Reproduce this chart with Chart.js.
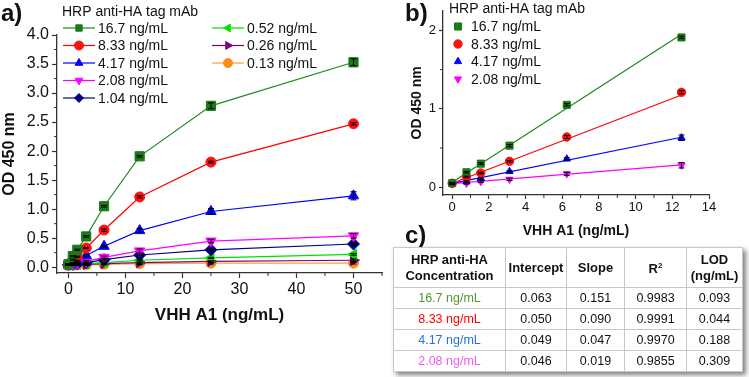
<!DOCTYPE html>
<html>
<head>
<meta charset="utf-8">
<script src="https://cdn.jsdelivr.net/npm/chart.js@4.4.0/dist/chart.umd.min.js"></script>
<style>
    body { margin: 0; background: #fff; width: 749px; height: 377px; overflow: hidden; position: relative;
           font-family: "Liberation Sans", Arial, sans-serif; color: #111; }
    #wrapA { position: absolute; left: 0; top: 0; }
    #wrapB { position: absolute; left: 380px; top: 0; }
    .panel { position: absolute; font-weight: bold; font-size: 24px; line-height: 24px; }
    #tbl { position: absolute; left: 393px; top: 247px; border-collapse: collapse; font-size: 12.5px;
           background: #fff; box-shadow: 3px 3px 5px rgba(0,0,0,0.5); table-layout: fixed; }
    #tbl th, #tbl td { border: 1px solid #c8c8c8; text-align: center; padding: 0; }
    #tbl th { font-weight: bold; font-size: 13px; height: 39px; line-height: 16px; }
    #tbl td { height: 20px; }
</style>
</head>
<body>
<div id="wrapA"><canvas id="chartA" width="390" height="326"></canvas></div>
<div id="wrapB"><canvas id="chartB" width="369" height="240"></canvas></div>
<div class="panel" style="left:1px;top:1px">a)</div>
<div class="panel" style="left:405px;top:1px">b)</div>
<div class="panel" style="left:405px;top:223px">c)</div>
<table id="tbl">
    <colgroup><col style="width:112px"><col style="width:61px"><col style="width:58px"><col style="width:62px"><col style="width:56px"></colgroup>
    <thead><tr>
        <th>HRP anti-HA<br>Concentration</th><th>Intercept</th><th>Slope</th><th>R<sup style="font-size:8px">2</sup></th><th>LOD<br>(ng/mL)</th>
    </tr></thead>
    <tbody id="tbody"></tbody>
</table>
<script>
    // VHH A1 concentrations (ng/mL)
    const concX = [0, 0.78, 1.56, 3.125, 6.25, 12.5, 25, 50];

    // OD 450 nm for each HRP anti-HA tag mAb concentration
    const od167 = [0.05, 0.19, 0.30, 0.53, 1.05, 1.91, 2.78, 3.53];
    const od833 = [0.05, 0.13, 0.18, 0.33, 0.64, 1.21, 1.81, 2.47];
    const od417 = [0.05, 0.07, 0.11, 0.20, 0.36, 0.63, 0.96, 1.23];
    const od208 = [0.04, 0.05, 0.07, 0.10, 0.17, 0.28, 0.45, 0.54];
    const od104 = [0.04, 0.05, 0.06, 0.08, 0.13, 0.21, 0.30, 0.40];
    const od052 = [0.04, 0.04, 0.05, 0.06, 0.08, 0.12, 0.16, 0.22];
    const od026 = [0.04, 0.04, 0.04, 0.05, 0.06, 0.08, 0.10, 0.12];
    const od013 = [0.04, 0.04, 0.04, 0.04, 0.05, 0.06, 0.07, 0.07];

    // error bar half-heights
    const err167 = [0.01, 0.01, 0.01, 0.015, 0.015, 0.015, 0.05, 0.06];
    const err833 = [0.01, 0.01, 0.01, 0.01, 0.02, 0.02, 0.015, 0.02];
    const err417 = [0.01, 0.01, 0.01, 0.01, 0.015, 0.035, 0.05, 0.07];
    const err208 = [0.01, 0.01, 0.01, 0.015, 0.02, 0.035, 0.03, 0.04];
    const err104 = [0.01, 0.01, 0.01, 0.01, 0.01, 0.015, 0.015, 0.02];
    const err052 = [0.01, 0.01, 0.01, 0.01, 0.01, 0.01, 0.01, 0.015];
    const err026 = [0.01, 0.01, 0.01, 0.01, 0.01, 0.01, 0.01, 0.02];
    const err013 = [0.01, 0.01, 0.01, 0.01, 0.01, 0.015, 0.015, 0.015];

    // table c) linear fits over 0-12.5 ng/mL
    const fitLabels = ['16.7 ng/mL', '8.33 ng/mL', '4.17 ng/mL', '2.08 ng/mL'];
    const fitIntercept = [0.063, 0.050, 0.049, 0.046];
    const fitSlope = [0.151, 0.090, 0.047, 0.019];
    const fitR2 = [0.9983, 0.9991, 0.9970, 0.9855];
    const fitLOD = [0.093, 0.044, 0.188, 0.309];
    const fitXmax = 12.5;

    // tick labels
    const aXTicks = [0, 10, 20, 30, 40, 50];
    const aXMinor = [5, 15, 25, 35, 45, 55];
    const aYTicks = [0, 0.5, 1, 1.5, 2, 2.5, 3, 3.5, 4];
    const aYMinor = [0.25, 0.75, 1.25, 1.75, 2.25, 2.75, 3.25, 3.75];
    const bXTicks = [0, 2, 4, 6, 8, 10, 12, 14];
    const bXMinor = [1, 3, 5, 7, 9, 11, 13];
    const bYTicks = [0, 1, 2];
    const bYMinor = [0.5, 1.5];

    const FONT = '"Liberation Sans", Arial, sans-serif';
    const AXIS = '#333';

    const series = [
        { label: '16.7 ng/mL', y: od167, err: err167, color: '#1f8a1f', fill: '#1a7a1a', style: 'rect', rot: 0, r: 6.5, tcolor: '#4f9a2e' },
        { label: '8.33 ng/mL', y: od833, err: err833, color: '#ff0000', fill: '#ff1010', style: 'circle', rot: 0, r: 5, tcolor: '#ff0000' },
        { label: '4.17 ng/mL', y: od417, err: err417, color: '#0000ff', fill: '#0000ff', style: 'triangle', rot: 0, r: 6, tcolor: '#2673d9' },
        { label: '2.08 ng/mL', y: od208, err: err208, color: '#ff00ff', fill: '#ff00ff', style: 'triangle', rot: 180, r: 6, tcolor: '#f05cf0' },
        { label: '1.04 ng/mL', y: od104, err: err104, color: '#000080', fill: '#000080', style: 'rectRot', rot: 0, r: 6 },
        { label: '0.52 ng/mL', y: od052, err: err052, color: '#00e000', fill: '#00e000', style: 'triangle', rot: -90, r: 6 },
        { label: '0.26 ng/mL', y: od026, err: err026, color: '#800080', fill: '#800080', style: 'triangle', rot: 90, r: 6 },
        { label: '0.13 ng/mL', y: od013, err: err013, color: '#f7a040', fill: '#ff8c1a', style: 'circle', rot: 0, r: 5 }
    ];

    const toPts = (xs, ys) => xs.map((x, i) => ({ x: x, y: ys[i] }));

    /**
     * Error bars with caps, drawn on top of the markers
     */
    const errorBars = {
        id: 'errorBars',
        afterDatasetsDraw(chart) {
            const ctx = chart.ctx;
            const xs = chart.scales.x, ys = chart.scales.y;
            ctx.save();
            ctx.strokeStyle = '#000';
            ctx.lineWidth = 1;
            chart.data.datasets.forEach(ds => {
                if (!ds.errors) return;
                const cap = ds.capWidth || 3;
                ds.data.forEach((p, j) => {
                    const e = ds.errors[j];
                    if (!e) return;
                    const x = xs.getPixelForValue(p.x);
                    const y1 = ys.getPixelForValue(p.y - e);
                    const y2 = ys.getPixelForValue(p.y + e);
                    ctx.beginPath();
                    ctx.moveTo(x, y1); ctx.lineTo(x, y2);
                    ctx.moveTo(x - cap, y1); ctx.lineTo(x + cap, y1);
                    ctx.moveTo(x - cap, y2); ctx.lineTo(x + cap, y2);
                    ctx.stroke();
                });
            });
            ctx.restore();
        }
    };

    /**
     * Short outside ticks between the labelled ones
     */
    const minorTicks = {
        id: 'minorTicks',
        afterDraw(chart, args, opts) {
            const ctx = chart.ctx;
            const xs = chart.scales.x, ys = chart.scales.y;
            ctx.save();
            ctx.strokeStyle = AXIS;
            ctx.lineWidth = 1;
            (opts.x || []).forEach(v => {
                const px = xs.getPixelForValue(v);
                ctx.beginPath(); ctx.moveTo(px, xs.top); ctx.lineTo(px, xs.top + opts.len); ctx.stroke();
            });
            (opts.y || []).forEach(v => {
                const py = ys.getPixelForValue(v);
                ctx.beginPath(); ctx.moveTo(ys.right, py); ctx.lineTo(ys.right - opts.len, py); ctx.stroke();
            });
            ctx.restore();
        }
    };

    /**
     * Legend drawn inside the plot, Origin style
     */
    const boxLegend = {
        id: 'boxLegend',
        afterDraw(chart, args, opts) {
            if (!opts.items) return;
            const ctx = chart.ctx;
            ctx.save();
            ctx.font = opts.fontSize + 'px ' + FONT;
            ctx.fillStyle = '#111';
            ctx.textBaseline = 'middle';
            ctx.textAlign = 'left';
            ctx.fillText(opts.title, opts.titleX, opts.titleY);
            opts.items.forEach(it => {
                const ds = chart.data.datasets[it.index];
                if (opts.lineLen) {
                    ctx.strokeStyle = ds.borderColor;
                    ctx.lineWidth = 1.2;
                    ctx.beginPath();
                    ctx.moveTo(it.x, it.y);
                    ctx.lineTo(it.x + opts.lineLen, it.y);
                    ctx.stroke();
                }
                ctx.fillStyle = ds.pointBackgroundColor;
                ctx.strokeStyle = ds.pointBorderColor;
                ctx.lineWidth = 1;
                Chart.helpers.drawPoint(ctx, {
                    pointStyle: ds.pointStyle, rotation: ds.pointRotation,
                    radius: opts.radius || ds.pointRadius, borderWidth: 1
                }, it.x + opts.markerOffset, it.y);
                ctx.fillStyle = '#111';
                ctx.fillText(ds.label, it.x + opts.textOffset, it.y + 1);
            });
            ctx.restore();
        }
    };

    function axisScale(opts) {
        return {
            type: 'linear',
            min: opts.min,
            max: opts.max,
            afterBuildTicks: s => { s.ticks = opts.ticks.map(v => ({ value: v })); },
            afterFit: s => { if (opts.width) s.width = opts.width; if (opts.height) s.height = opts.height; },
            grid: { drawOnChartArea: false, drawTicks: true, tickLength: opts.tickLen, tickColor: AXIS, tickWidth: 1.2 },
            border: { color: AXIS, width: 1.3 },
            ticks: {
                font: { family: FONT, size: opts.fontSize }, color: '#111', padding: opts.pad,
                maxRotation: 0, autoSkip: false, callback: opts.fmt
            },
            title: {
                display: true, text: opts.title, color: '#111', padding: 0,
                font: { family: FONT, size: opts.titleSize, weight: 'bold' }
            }
        };
    }

    // ---------- a) full response curves ----------
    const dsA = series.map(s => ({
        label: s.label,
        data: toPts(concX, s.y),
        errors: s.err,
        capWidth: 3,
        borderColor: s.color,
        backgroundColor: s.fill,
        pointBackgroundColor: s.fill,
        pointBorderColor: s.fill,
        pointStyle: s.style,
        pointRotation: s.rot,
        pointRadius: s.r,
        pointBorderWidth: 1,
        borderWidth: 1.2,
        tension: 0
    }));

    new Chart(document.getElementById('chartA'), {
        type: 'line',
        data: { datasets: dsA },
        options: {
            responsive: false,
            animation: false,
            layout: { padding: { left: 0, right: 8, top: 35, bottom: 0 } },
            plugins: {
                legend: { display: false },
                tooltip: { enabled: false },
                minorTicks: { x: aXMinor, y: aYMinor, len: 3 },
                boxLegend: {
                    title: 'HRP anti-HA tag mAb', titleX: 62, titleY: 12, fontSize: 14,
                    lineLen: 32, markerOffset: 16, textOffset: 35, radius: 4.5,
                    items: [
                        { index: 0, x: 63, y: 28 }, { index: 1, x: 63, y: 45.5 }, { index: 2, x: 63, y: 63 },
                        { index: 3, x: 63, y: 80.5 }, { index: 4, x: 63, y: 98 },
                        { index: 5, x: 212, y: 28 }, { index: 6, x: 212, y: 45.5 }, { index: 7, x: 212, y: 63 }
                    ]
                }
            },
            scales: {
                x: axisScale({ min: -2, max: 55, ticks: aXTicks, height: 53, tickLen: 5, pad: 2, fontSize: 16,
                               fmt: v => String(v), title: 'VHH A1 (ng/mL)', titleSize: 17 }),
                y: axisScale({ min: -0.1, max: 4.0, ticks: aYTicks, width: 57, tickLen: 5, pad: 3, fontSize: 16,
                               fmt: v => v.toFixed(1), title: 'OD 450 nm', titleSize: 16 })
            }
        },
        plugins: [errorBars, minorTicks, boxLegend]
    });

    // ---------- b) linear range with fits ----------
    const bCount = concX.filter(x => x <= fitXmax).length;
    const dsB = [];
    series.slice(0, 4).forEach(s => {
        dsB.push({
            label: s.label,
            data: toPts(concX.slice(0, bCount), s.y.slice(0, bCount)),
            errors: s.err.slice(0, bCount),
            capWidth: 3,
            showLine: false,
            borderColor: s.color,
            backgroundColor: s.fill,
            pointBackgroundColor: s.fill,
            pointBorderColor: s.fill,
            pointStyle: s.style,
            pointRotation: s.rot,
            pointRadius: s.style === 'rect' ? 5 : 4.2,
            pointBorderWidth: 1,
            order: 1
        });
    });
    series.slice(0, 4).forEach((s, i) => {
        dsB.push({
            label: 'fit ' + s.label,
            data: [{ x: 0, y: fitIntercept[i] }, { x: fitXmax, y: fitIntercept[i] + fitSlope[i] * fitXmax }],
            borderColor: s.color,
            borderWidth: 1.2,
            pointRadius: 0,
            showLine: true,
            order: 2
        });
    });

    new Chart(document.getElementById('chartB'), {
        type: 'scatter',
        data: { datasets: dsB },
        options: {
            responsive: false,
            animation: false,
            layout: { padding: { left: 29, right: 40, top: 1, bottom: 0 } },
            plugins: {
                legend: { display: false },
                tooltip: { enabled: false },
                minorTicks: { x: bXMinor, y: bYMinor, len: 3 },
                boxLegend: {
                    title: 'HRP anti-HA tag mAb', titleX: 69, titleY: 9, fontSize: 14,
                    lineLen: 0, markerOffset: 0, textOffset: 13,
                    items: [
                        { index: 0, x: 78, y: 26.5 }, { index: 1, x: 78, y: 44 },
                        { index: 2, x: 78, y: 61.5 }, { index: 3, x: 78, y: 79 }
                    ]
                }
            },
            scales: {
                x: axisScale({ min: -0.5, max: 14, ticks: bXTicks, height: 45, tickLen: 4, pad: 1, fontSize: 13,
                               fmt: v => String(v), title: 'VHH A1 (ng/mL)', titleSize: 14 }),
                y: axisScale({ min: -0.1, max: 2.25, ticks: bYTicks, width: 34, tickLen: 4, pad: 3, fontSize: 13,
                               fmt: v => String(v), title: 'OD 450 nm', titleSize: 14 })
            }
        },
        plugins: [errorBars, minorTicks, boxLegend]
    });

    // ---------- c) fit table ----------
    const tbody = document.getElementById('tbody');
    fitLabels.forEach((lab, i) => {
        const tr = document.createElement('tr');
        tr.innerHTML =
            `<td style="color:${series[i].tcolor}">${lab}</td>` +
            `<td>${fitIntercept[i].toFixed(3)}</td>` +
            `<td>${fitSlope[i].toFixed(3)}</td>` +
            `<td>${fitR2[i].toFixed(4)}</td>` +
            `<td>${fitLOD[i].toFixed(3)}</td>`;
        tbody.appendChild(tr);
    });
</script>
</body>
</html>
